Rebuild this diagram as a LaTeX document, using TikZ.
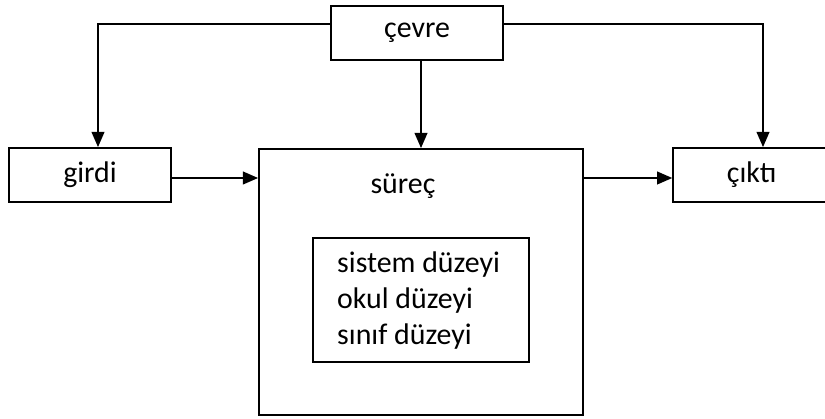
\documentclass[tikz,border=0pt]{standalone}
\usepackage{fontspec}
\setmainfont{Carlito}
\usepackage{tikz}
\usetikzlibrary{positioning}
\usetikzlibrary{arrows.meta}

\tikzset{
  kutu/.style={draw, line width=1.6pt, inner sep=0pt},
  ok/.style={-{Triangle[length=13pt,width=11pt]}, line width=1.3pt},
  yazi/.style={font=\fontsize{25.5}{30.7}\selectfont}
}

\begin{document}
\begin{tikzpicture}
            \useasboundingbox (0,0) rectangle (24.75,-12.57);

            % Boxes
            \node[kutu, yazi, minimum width=5.16cm, minimum height=1.62cm] (cevre) at (12.51,-0.99) {çevre};
            \node[kutu, yazi, minimum width=4.86cm, minimum height=1.62cm] (girdi) at (2.7,-5.25) {girdi};
            \node[kutu, yazi, minimum width=4.71cm, minimum height=1.62cm] (cikti) at (22.55,-5.25) {çıktı};
            \node[kutu, minimum width=9.72cm, minimum height=7.98cm] (surec) at (12.63,-8.46) {};
            \node[yazi] (surecyazi) at (12.09,-5.58) {süreç};

            % Inner box with the levels
            \node[kutu, minimum width=6.48cm, minimum height=3.72cm] (duzey) at (12.63,-9.0) {};
            \node[yazi, anchor=west, align=left, inner sep=0pt] (duzeyler) at (10.11,-9.03)
                {sistem düzeyi\\okul düzeyi\\sınıf düzeyi};

            % Arrows from the environment
            \draw[ok] ([yshift=0.27cm]cevre.west) -| ([xshift=0.24cm]girdi.north);
            \draw[ok] (cevre.south -| surec.north) -- (surec.north);
            \draw[ok] ([yshift=0.27cm]cevre.east) -| ([xshift=0.34cm]cikti.north);

            % Input and output
            \draw[ok] ([yshift=-0.09cm]girdi.east) -- ([yshift=-0.09cm]girdi.east -| surec.west);
            \draw[ok] ([yshift=-0.09cm]surec.east |- cikti.west) -- ([yshift=-0.09cm]cikti.west);
        \end{tikzpicture}
\end{document}
